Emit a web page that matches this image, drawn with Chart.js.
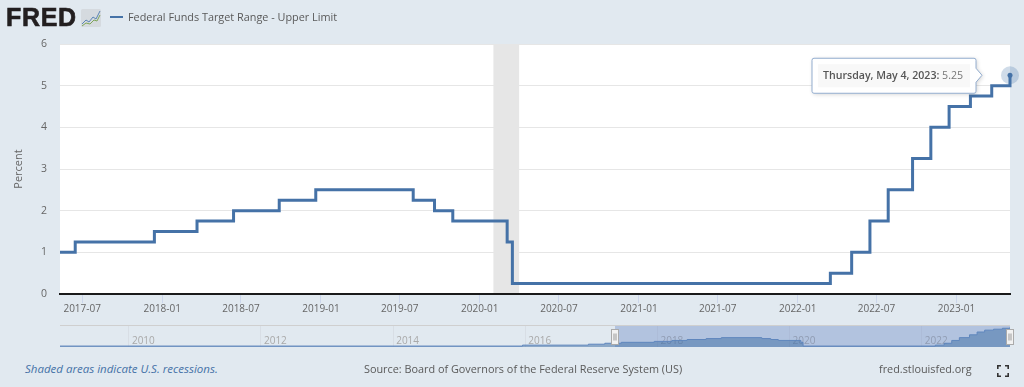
<!DOCTYPE html>
<html><head><meta charset="utf-8">
<style>
html,body{margin:0;padding:0;width:1024px;height:387px;overflow:hidden;background:#e1e9f0;font-family:"Open Sans",sans-serif;}
canvas{position:absolute;left:0;}
.t{position:absolute;white-space:nowrap;color:#595959;font-size:10.85px;line-height:16px;}
#logo{left:6px;top:3px;font:bold 25px/28px "Liberation Sans",Arial,sans-serif;letter-spacing:.7px;color:#231f20;-webkit-text-stroke:.6px #231f20;}
#leg{position:absolute;left:110px;top:16px;width:13px;height:2px;background:#4572a7;}
#icon{position:absolute;left:81px;top:9px;}
#fs{position:absolute;left:997px;top:365px;}
</style>
<script src="https://cdn.jsdelivr.net/npm/chart.js@4"></script>
</head><body>
<canvas id="main" width="1024" height="320" style="top:0;width:1024px;height:320px"></canvas>
<canvas id="nav" width="1024" height="40" style="top:318px;width:1024px;height:40px"></canvas>
<div class="t" id="logo">FRED</div>
<svg id="icon" width="20" height="18" viewBox="0 0 20 18"><rect width="20" height="18" rx="1.5" fill="#d5dadf"/><polyline points="1,15 5,11 8,13 12,8 15,10 19,2" fill="none" stroke="#5b85b5" stroke-width="1"/><polyline points="1,17 5,14 9,15 13,11 16,12 19,6" fill="none" stroke="#7fa65a" stroke-width="1"/></svg>
<div id="leg"></div>
<div class="t" id="title" style="left:128px;top:9px">Federal Funds Target Range - Upper Limit</div>
<div class="t" style="left:25px;top:361px;font-style:italic;color:#4572a7;font-size:11.5px">Shaded areas indicate U.S. recessions.</div>
<div class="t" style="left:364px;top:361px">Source: Board of Governors of the Federal Reserve System (US)</div>
<div class="t" style="left:879px;top:361px">fred.stlouisfed.org</div>
<svg id="fs" width="12" height="12" viewBox="0 0 12 12" fill="none" stroke="#333" stroke-width="1.6"><path d="M0.8 4V.8H4M8 .8h3.2V4M11.2 8v3.2H8M4 11.2H.8V8"/></svg>
<script>
// Series: date each target took effect, and its upper limit in percent
const stepDates = ['2008-12-16','2015-12-17','2016-12-15','2017-03-16','2017-06-15','2017-12-14','2018-03-22','2018-06-14','2018-09-27','2018-12-20','2019-08-01','2019-09-19','2019-10-31','2020-03-04','2020-03-16','2022-03-17','2022-05-05','2022-06-16','2022-07-28','2022-09-22','2022-11-03','2022-12-15','2023-02-02','2023-03-23','2023-05-04'];
const stepValues = [0.25,0.5,0.75,1,1.25,1.5,1.75,2,2.25,2.5,2.25,2,1.75,1.25,0.25,0.5,1,1.75,2.5,3.25,4,4.5,4.75,5,5.25];
const recession = ['2020-02-01','2020-04-01'];
const viewRange = ['2017-05-11','2023-05-04'];
const fullRange = ['2008-12-16','2023-05-04'];
const xTickDates = ['2017-07-01','2018-01-01','2018-07-01','2019-01-01','2019-07-01','2020-01-01','2020-07-01','2021-01-01','2021-07-01','2022-01-01','2022-07-01','2023-01-01'];
const navTickDates = ['2010-01-01','2012-01-01','2014-01-01','2016-01-01','2018-01-01','2020-01-01','2022-01-01'];
const yTicks = [0,1,2,3,4,5,6];
const tooltipDate = 'Thursday, May 4, 2023:';
const tooltipValue = '5.25';

const ms = s => Date.parse(s + 'T00:00:00Z');
const allPoints = stepDates.map((d,i)=>({x:ms(d),y:stepValues[i]}));
const viewStart = ms(viewRange[0]);
const startVal = stepValues[stepDates.filter(d=>ms(d)<=viewStart).length-1];
const viewPoints = [{x:viewStart,y:startVal}].concat(allPoints.filter(p=>p.x>viewStart));
const lastPoint = allPoints[allPoints.length-1];
const BLUE = '#4572a7';
const FONT = '"Open Sans",sans-serif';

const plotBg = {id:'plotBg',beforeDraw(c){const a=c.chartArea,x=c.ctx;x.save();x.fillStyle='#fff';x.fillRect(a.left,a.top,a.right-a.left,a.bottom-a.top);x.restore();}};

const tipBox = {id:'tipBox',afterDraw(c){
  const m=c.getDatasetMeta(2).data[0]; if(!m) return;
  const x=c.ctx, r=m.x-34, l=m.x-198, t=m.y-17, b=m.y+18, cy=m.y;
  x.save();
  x.shadowColor='rgba(0,0,0,.18)';x.shadowBlur=4;x.shadowOffsetX=1;x.shadowOffsetY=1;
  x.beginPath();x.moveTo(l+2,t);x.lineTo(r-2,t);x.quadraticCurveTo(r,t,r,t+2);x.lineTo(r,cy-7);x.lineTo(r+6,cy);x.lineTo(r,cy+7);x.lineTo(r,b-2);x.quadraticCurveTo(r,b,r-2,b);x.lineTo(l+2,b);x.quadraticCurveTo(l,b,l,b-2);x.lineTo(l,t+2);x.quadraticCurveTo(l,t,l+2,t);x.closePath();
  x.fillStyle='#fff';x.fill();
  x.shadowColor='transparent';x.strokeStyle='#94aed0';x.lineWidth=1;x.stroke();
  x.fillStyle='#f8f8f8';x.fillRect(l+6,t+6,r-l-12,b-t-12);
  x.textBaseline='middle';x.textAlign='left';
  x.font='600 10.6px '+FONT;x.fillStyle='#555';x.fillText(tooltipDate,l+11,cy+.5);
  const w=x.measureText(tooltipDate+' ').width;
  x.font='10.6px '+FONT;x.fillStyle='#777';x.fillText(tooltipValue,l+11+w,cy+.5);
  x.restore();
}};

new Chart(document.getElementById('main'),{
  type:'line',
  data:{datasets:[
    {data:viewPoints,borderColor:BLUE,borderWidth:3,stepped:true,pointRadius:0,fill:false,clip:false,order:1,borderJoinStyle:'miter'},
    {data:recession.map(d=>({x:ms(d),y:6})),borderWidth:0,pointRadius:0,fill:'origin',backgroundColor:'#e6e6e6',order:3},
    {data:[lastPoint],pointRadius:2.5,pointBackgroundColor:BLUE,pointBorderWidth:0,showLine:false,clip:false,order:0},
    {data:[lastPoint],pointRadius:9,pointBackgroundColor:'rgba(69,114,167,.25)',pointBorderWidth:0,showLine:false,clip:false,order:0.5}
  ]},
  options:{
    responsive:false,animation:false,
    layout:{padding:{left:0,right:14,top:44,bottom:0}},
    plugins:{legend:{display:false},tooltip:{enabled:false}},
    scales:{
      x:{type:'linear',min:viewStart,max:lastPoint.x,
        afterBuildTicks(s){s.ticks=xTickDates.map(d=>({value:ms(d)}));},
        afterFit(s){s.height=26;},
        grid:{drawOnChartArea:false,tickColor:'#ccd6eb',tickLength:9,tickWidth:1},
        border:{color:'#1a1a1a',width:2,z:1},
        ticks:{autoSkip:false,maxRotation:0,minRotation:0,padding:0,color:'#666',font:{family:FONT,size:10},
          callback(v){const i=xTickDates.findIndex(d=>ms(d)===v);return i<0?'':xTickDates[i].slice(0,7);}}
      },
      y:{min:0,max:6,
        afterBuildTicks(s){s.ticks=yTicks.map(v=>({value:v}));},
        afterFit(s){s.width=60;},
        grid:{color:'#e6e6e6',drawTicks:false},border:{display:false},
        ticks:{padding:13,color:'#666',font:{family:FONT,size:10.5}},
        title:{display:true,text:'Percent',color:'#666',font:{family:FONT,size:11},padding:{top:12,bottom:0}}
      }
    }
  },
  plugins:[plotBg,tipBox]
});

const navLabels = {id:'navLabels',beforeDatasetsDraw(c){
  const x=c.ctx,s=c.scales.x,a=c.chartArea;
  x.save();x.font='10px '+FONT;x.fillStyle='#a9a9a9';x.textBaseline='middle';x.textAlign='left';
  navTickDates.forEach(d=>x.fillText(d.slice(0,4),s.getPixelForValue(ms(d))+3,a.bottom-6));
  x.restore();
}};

const navChrome = {id:'navChrome',afterDraw(c){
  const a=c.chartArea,x=c.ctx,s=c.scales.x;
  x.save();
  x.strokeStyle='#cfcfcf';x.lineWidth=1;x.beginPath();x.moveTo(a.left,a.top-.5);x.lineTo(a.right,a.top-.5);x.stroke();
  [viewRange[0],viewRange[1]].forEach(d=>{
    const px=Math.round(s.getPixelForValue(ms(d)));
    const w=7,h=15,l=px-3.5,t=Math.round((a.top+a.bottom)/2-h/2)+.5;
    x.fillStyle='#f2f2f2';x.strokeStyle='#aaa';x.lineWidth=1;
    x.fillRect(l,t,w,h);x.strokeRect(l,t,w,h);
    x.strokeStyle='#999';x.beginPath();x.moveTo(px-1,t+4);x.lineTo(px-1,t+h-4);x.moveTo(px+1,t+4);x.lineTo(px+1,t+h-4);x.stroke();
  });
  x.restore();
}};

new Chart(document.getElementById('nav'),{
  type:'line',
  data:{datasets:[
    {data:allPoints,borderColor:'#5f86bd',borderWidth:1,stepped:true,pointRadius:0,fill:'origin',backgroundColor:'rgba(69,114,167,.55)',order:1},
    {data:[{x:viewStart,y:6},{x:lastPoint.x,y:6}],borderWidth:0,pointRadius:0,fill:'origin',backgroundColor:'rgba(102,133,194,.38)',order:2}
  ]},
  options:{
    responsive:false,animation:false,
    layout:{padding:{left:0,right:14,top:8,bottom:11}},
    plugins:{legend:{display:false},tooltip:{enabled:false}},
    scales:{
      x:{type:'linear',min:ms(fullRange[0]),max:ms(fullRange[1]),
        afterBuildTicks(s){s.ticks=navTickDates.map(d=>({value:ms(d)}));},
        afterFit(s){s.height=0;},
        grid:{color:'#d8dee5',drawTicks:false},border:{display:false},
        ticks:{display:false}
      },
      y:{min:0,max:5.6,display:false,afterFit(s){s.width=60;}}
    }
  },
  plugins:[navLabels,navChrome]
});
</script>
</body></html>
